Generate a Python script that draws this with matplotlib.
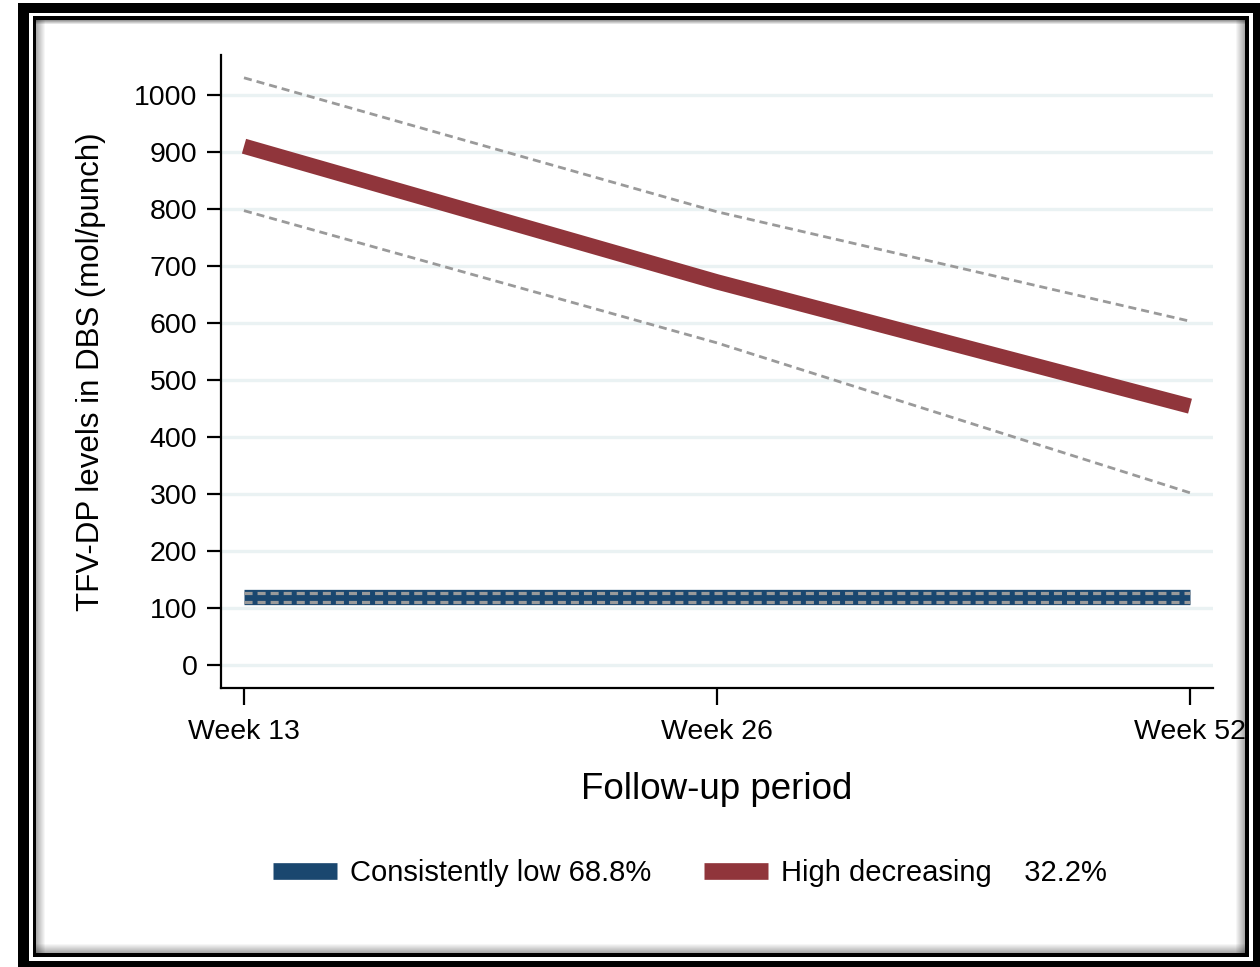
import matplotlib.pyplot as plt
from matplotlib.patches import Rectangle
from matplotlib.lines import Line2D

# 画像設定
W, H = 1260, 967
dpi = 100
plt.rcParams['font.family'] = ['Liberation Sans', 'DejaVu Sans']
plt.rcParams['lines.scale_dashes'] = False

# 色設定
blue = '#1a476f'
maroon = '#90353b'
ci_gray = '#9a9a9a'
grid_color = '#eaf2f3'

# データ
weeks = ['Week 13', 'Week 26', 'Week 52']
low_mean = [119, 119, 119]
low_upper = [127, 127, 127]
low_lower = [111, 111, 111]
high_mean = [910, 672, 454]
high_upper = [1030, 795, 603]
high_lower = [797, 565, 302]
yticks = [0, 100, 200, 300, 400, 500, 600, 700, 800, 900, 1000]
legend_labels = ['Consistently low 68.8%', 'High decreasing    32.2%']

fig = plt.figure(figsize=(W / dpi, H / dpi), dpi=dpi)
fig.patch.set_facecolor('white')


def px_rect(x0, y0, x1, y1, color, alpha=1.0):
    # ピクセル座標（左上原点）で矩形を描く
    fig.add_artist(Rectangle((x0 / W, 1 - y1 / H), (x1 - x0) / W, (y1 - y0) / H,
                             transform=fig.transFigure, facecolor=color,
                             edgecolor='none', alpha=alpha, zorder=0))


# 外枠（太い黒）
px_rect(18, 3, 1265, 13, 'black')
px_rect(18, 3, 29, 972, 'black')
px_rect(1253, 3, 1265, 972, 'black')
px_rect(18, 961, 1265, 972, 'black')
# 内枠（細い黒）
px_rect(33, 16, 1249, 20, 'black')
px_rect(33, 16, 36, 957, 'black')
px_rect(1245, 16, 1249, 957, 'black')
px_rect(33, 953, 1249, 957, 'black')
# 影
for i in range(9):
    a = 0.55 * (1 - i / 9)
    px_rect(36 + i, 20, 37 + i, 953, 'black', a * 0.6)
    px_rect(1244 - i, 20, 1245 - i, 953, 'black', a * 0.6)
    px_rect(36, 952 - i, 1245, 953 - i, 'black', a * 0.6)
for i in range(4):
    px_rect(36, 20 + i, 1245, 21 + i, 'black', 0.4 * (1 - i / 4))

ax = fig.add_axes([221 / W, 1 - 688 / H, (1213 - 221) / W, (688 - 55) / H])
ax.set_facecolor('white')
x = list(range(len(weeks)))

ax.set_ylim(-40.4, 1070)
ax.set_xlim(-0.0486, 2.0486)
ax.set_yticks(yticks)
ax.set_xticks(x)
ax.set_xticklabels(weeks)
ax.yaxis.grid(True, color=grid_color, linewidth=2.4)
ax.set_axisbelow(True)

for s in ['top', 'right']:
    ax.spines[s].set_visible(False)
for s in ['left', 'bottom']:
    ax.spines[s].set_linewidth(1.6)
ax.tick_params(axis='both', labelsize=20.5, length=10, width=1.6, colors='black')
ax.tick_params(axis='y', pad=7)
ax.tick_params(axis='x', length=12, pad=10)

# 系列
ax.plot(x, low_mean, color=blue, linewidth=11, solid_capstyle='butt', zorder=3)
ax.plot(x, low_upper, color=ci_gray, linewidth=2.3, dashes=(5.8, 3.6), zorder=4)
ax.plot(x, low_lower, color=ci_gray, linewidth=2.3, dashes=(5.8, 3.6), zorder=4)
ax.plot(x, high_upper, color=ci_gray, linewidth=2.0, dashes=(5.8, 3.6), zorder=2)
ax.plot(x, high_lower, color=ci_gray, linewidth=2.0, dashes=(5.8, 3.6), zorder=2)
ax.plot(x, high_mean, color=maroon, linewidth=11, solid_capstyle='butt', zorder=3)

ax.set_ylabel('TFV-DP levels in DBS (mol/punch)', fontsize=22.5, labelpad=20)
ax.set_xlabel('Follow-up period', fontsize=26.5, labelpad=20)

handles = [Line2D([0], [0], color=blue, linewidth=12, solid_capstyle='butt'),
           Line2D([0], [0], color=maroon, linewidth=12, solid_capstyle='butt')]
fig.legend(handles, legend_labels, loc='center', bbox_to_anchor=(0.5476, 1 - 873 / H),
           ncol=2, frameon=False, fontsize=21, handlelength=2.2,
           handletextpad=0.45, columnspacing=1.8)

fig.savefig('out.png', dpi=dpi)
